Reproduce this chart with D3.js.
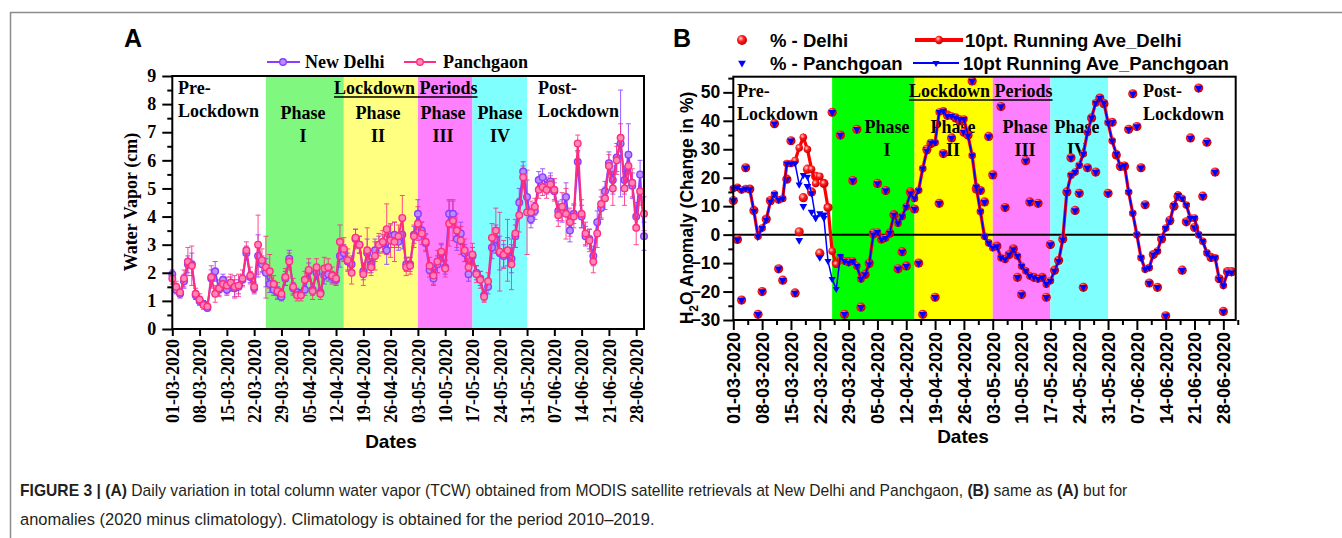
<!DOCTYPE html>
<html lang="en">
<head>
<meta charset="UTF-8">
<title>Figure 3</title>
<script src="https://cdn.jsdelivr.net/npm/d3@7"></script>
<style>
  body { margin: 0; background: #fff; }
  svg { display: block; }
</style>
</head>
<body>
<svg id="fig" width="1342" height="538"></svg>
<script>
// ---- data ----
const tickLabels = ["01-03-2020","08-03-2020","15-03-2020","22-03-2020","29-03-2020","05-04-2020",
  "12-04-2020","19-04-2020","26-04-2020","03-05-2020","10-05-2020","17-05-2020","24-05-2020",
  "31-05-2020","07-06-2020","14-06-2020","21-06-2020","28-06-2020"];
const phaseBounds = ["25-03-2020","14-04-2020","03-05-2020","17-05-2020","31-05-2020"];
const phaseColorsA = ["#80f77f","#ffff80","#ff80ff","#80ffff"];
const phaseColorsB = ["#00ff00","#ffff00","#ff80ff","#80ffff"];

// panel A: total column water vapour (cm), one value per day from 01-03-2020
const wvDelhi = [1.95,1.4,1.25,1.7,2.3,2.3,1.2,1.0,0.9,0.75,
  1.8,2.05,1.4,1.75,1.4,1.6,1.45,1.5,1.75,2.7,
  1.85,1.45,2.6,2.3,2.0,1.6,1.4,1.3,1.15,1.8,
  2.5,1.45,1.3,1.25,1.4,2.05,1.4,2.0,1.3,1.9,
  1.95,1.85,1.75,2.6,2.7,2.4,2.3,3.2,3.0,2.05,
  2.7,2.3,2.8,3.0,3.05,2.8,3.3,3.35,3.1,3.35,
  2.3,2.3,3.35,4.1,3.5,3.05,2.1,1.8,2.3,2.7,
  2.2,4.1,4.1,3.2,3.4,2.7,1.95,2.6,2.0,1.8,
  1.2,1.5,2.9,3.2,2.7,2.6,2.75,2.5,3.3,4.5,
  5.6,4.7,3.9,4.2,5.3,5.4,5.1,5.25,4.9,4.2,
  4.2,4.7,3.5,4.1,5.95,4.0,3.3,3.2,2.6,3.8,
  4.3,4.9,5.9,5.3,6.1,6.6,5.3,6.2,5.1,4.0,
  5.5,3.3];
const wvPanch = [1.8,1.5,1.3,1.8,2.4,2.25,1.25,1.05,0.85,0.8,
  1.85,1.25,1.45,1.6,1.55,1.65,1.5,1.55,1.8,2.8,
  1.9,1.5,3.0,2.45,2.2,2.05,1.6,1.35,1.25,1.85,
  2.4,1.5,1.2,1.2,1.75,2.1,1.35,2.2,1.25,2.15,
  2.2,1.9,1.8,3.1,2.85,2.45,2.0,3.25,3.0,1.95,
  2.8,2.2,2.6,3.0,3.1,3.55,3.15,3.1,3.3,3.95,
  2.2,2.25,3.3,3.75,3.4,3.1,2.25,1.9,2.4,2.75,
  2.15,3.75,3.85,3.5,3.15,2.8,2.2,2.65,1.95,1.75,
  1.15,1.7,3.25,3.5,2.75,2.65,2.8,2.3,3.4,4.05,
  5.4,4.15,4.15,4.35,4.95,5.05,4.95,5.15,4.95,4.05,
  4.35,4.1,3.8,4.0,6.6,4.1,3.4,3.15,2.4,3.4,
  4.45,4.65,5.8,5.0,6.0,6.8,5.0,5.8,5.2,3.6,
  4.9,4.1];
const errDelhi = [0.15,0.15,0.15,0.25,0.3,0.4,0.15,0.15,0.1,0.1,
  0.3,0.35,0.2,0.2,0.2,0.25,0.3,0.25,0.2,0.25,
  0.2,0.2,0.75,0.3,0.5,0.3,0.2,0.2,0.15,0.25,
  0.3,0.2,0.15,0.15,0.2,0.3,0.2,0.25,0.15,0.3,
  0.25,0.2,0.2,0.4,0.3,0.3,0.3,0.35,0.3,0.3,
  0.5,0.3,0.4,0.3,0.3,0.5,0.4,0.45,0.3,0.5,
  0.25,0.25,0.3,0.5,0.3,0.3,0.25,0.25,0.3,0.3,
  0.25,0.5,0.5,0.4,0.4,0.3,0.25,0.3,0.25,0.25,
  0.2,0.25,0.4,0.5,0.6,0.4,0.5,0.5,0.4,0.5,
  0.35,0.6,0.3,0.3,0.3,0.3,0.3,0.3,0.3,0.35,
  0.4,0.5,0.4,0.35,0.4,0.4,0.35,0.35,0.35,0.4,
  0.4,0.35,0.4,0.5,0.5,1.9,0.5,1.1,0.45,0.5,
  0.5,0.5];
const errPanch = [0.2,0.2,0.15,0.3,0.5,0.7,0.2,0.2,0.15,0.1,
  0.4,0.3,0.3,0.2,0.3,0.3,0.4,0.4,0.3,0.3,
  0.3,0.2,1.05,0.4,1.1,0.6,0.3,0.3,0.2,0.3,
  0.3,0.3,0.2,0.2,0.3,0.4,0.3,0.3,0.2,0.4,
  0.3,0.3,0.2,0.6,0.4,0.4,0.4,0.3,0.3,0.4,
  0.8,0.3,0.5,0.4,0.4,0.9,0.6,0.7,0.4,0.8,
  0.3,0.3,0.4,0.6,0.4,0.3,0.3,0.3,0.4,0.3,
  0.3,0.8,0.7,0.6,0.5,0.4,0.3,0.4,0.3,0.3,
  0.2,0.3,0.5,0.8,1.4,0.5,1.1,0.9,0.5,0.6,
  0.4,1.5,0.4,0.3,0.3,0.3,0.3,0.3,0.4,0.4,
  0.5,0.9,0.5,0.4,0.3,0.5,0.4,0.4,0.4,0.5,
  0.5,0.4,0.4,0.6,0.5,0.5,0.6,0.5,0.5,0.6,
  0.5,0.6];

// panel B: anomaly in % (2020 minus climatology)
const anomDelhi = [12,-1.7,-23,23.5,16,8.5,-28,-20,5.5,12,
  39,-12,-16,19.5,33,-20.5,1,13,23,15,
  20.5,-6.5,18,9.5,43,-10,35,-28,-9.5,19,
  37,-25.5,-14,-10,0.5,18,-1.5,15.5,0.5,7,
  -12,-6,-11,15,9,-10,-28,30,32,-22,
  11,28.5,42,34,41,40,36,35,54,16,
  15.5,11.5,34.5,21,-4,45,9.5,-7,-5,-15,
  -21,26,11.5,-15,11,-15,-22,-3.5,-12.5,-9,
  -1.5,15,27,8.5,14.5,-18.5,23.5,41,22,48,
  46,14.5,39.5,28,24,24,37,49.5,38,23.5,
  10.5,-17,-7,-18.5,-1.5,-28.5,5,10,13.5,-12.5,
  4.5,34,2.5,51.5,13.5,32.5,-8,22,-15.5,-27,
  -13,-13];
const anomPanch = [12,-1.7,-23,23.5,16,8.5,-28,-20,5.5,12,
  39,-12,-16,19.5,33,-20.5,-2,10,17,8,
  6,-8,7,9.5,43,-10,35,-28,-9.5,19,
  37,-25.5,-14,-10,0.5,18,-1.5,15.5,0.5,7,
  -12,-6,-11,15,9,-10,-28,30,32,-22,
  11,28.5,42,34,41,40,36,35,54,16,
  15.5,11.5,34.5,21,-4,45,9.5,-7,-5,-15,
  -21,26,11.5,-15,11,-15,-22,-3.5,-12.5,-9,
  -1.5,15,27,8.5,14.5,-18.5,23.5,41,22,48,
  46,14.5,39.5,28,24,24,37,49.5,38,23.5,
  10.5,-17,-7,-18.5,-1.5,-28.5,5,10,13.5,-12.5,
  4.5,34,2.5,51.5,13.5,32.5,-8,22,-15.5,-27,
  -13,-13];
const aveDelhi = [16.2,16.6,15.7,16.2,15.9,8.3,-0.6,2.3,5.2,11.6,
  14.3,12.2,12.7,25,25,26,30.5,34.2,30,23,
  18,20.5,18,9.5,-5.8,-10.4,-8,-9.3,-9.8,-9.3,
  -11,-15.6,-13.9,-10.4,0,0.9,-1.7,-1.2,0.6,7,
  4,6.4,9.8,14.5,12.7,15.6,23.2,29.5,32.4,32.4,
  43.1,43.5,41.7,41.7,41.1,40.6,40.6,34.8,27.8,16.8,
  8.1,-0.6,-2.9,-4.6,-4.1,-8.1,-8.7,-7,-5.2,-7.5,
  -11,-12.7,-14.5,-15,-15.6,-15,-17.4,-16.2,-12.7,-9.3,
  -1.7,15,20.9,22,24.4,28.4,35.9,41.1,46.3,48.1,
  46.3,39.4,33,28.4,23.8,24.4,15,7.5,0,-8.1,
  -12.2,-11.6,-7,-5.8,-1.2,2.3,4.6,10.4,13.9,12.7,
  10.4,5.8,5.8,0,-2.3,-6.4,-8.1,-8.1,-15.6,-17.9,
  -13.3,-13.3];
const avePanch = [16.2,16.6,15.7,16.2,15.9,8.3,-0.6,2.3,5.2,11.6,
  14.3,12.2,12.7,25,25,25,17.6,20.9,20.3,14.5,
  5.8,7.5,5.8,-9.3,-15.6,-19.1,-7.5,-9.3,-9.8,-9.3,
  -11,-15.6,-13.9,-10.4,0,0.9,-1.7,-1.2,0.6,7,
  4,6.4,9.8,14.5,12.7,15.6,23.2,29.5,32.4,32.4,
  43.1,43.5,41.7,41.7,41.1,40.6,40.6,34.8,27.8,16.8,
  8.1,-0.6,-2.9,-4.6,-4.1,-8.1,-8.7,-7,-5.2,-7.5,
  -11,-12.7,-14.5,-15,-15.6,-15,-17.4,-16.2,-12.7,-9.3,
  -1.7,15,20.9,22,24.4,28.4,35.9,41.1,46.3,48.1,
  46.3,39.4,33,28.4,23.8,24.4,15,7.5,0,-8.1,
  -12.2,-11.6,-7,-5.8,-1.2,2.3,4.6,10.4,13.9,12.7,
  10.4,5.8,5.8,0,-2.3,-6.4,-8.1,-8.1,-15.6,-17.9,
  -13.3,-13.3];

// ---- helpers ----
const SERIF = "'Liberation Serif','Times New Roman',serif";
const SANS = "'Liberation Sans',Arial,sans-serif";
const PURPLE = "#8b3dff", PINK = "#ff2d7f";
const parse = d3.timeParse("%d-%m-%Y");
const day0 = parse(tickLabels[0]);
const dayOf = i => d3.timeDay.offset(day0, i);
const tickDates = tickLabels.map(parse);
const bounds = phaseBounds.map(parse);

const svg = d3.select("#fig");
const defs = svg.append("defs");
const grad = defs.append("radialGradient").attr("id", "redBall")
  .attr("cx", "38%").attr("cy", "35%").attr("r", "65%");
grad.append("stop").attr("offset", "0%").attr("stop-color", "#ffd6d6");
grad.append("stop").attr("offset", "45%").attr("stop-color", "#ff2020");
grad.append("stop").attr("offset", "100%").attr("stop-color", "#c80000");

// page frame
svg.append("line").attr("x1", 10).attr("y1", 12.5).attr("x2", 1342).attr("y2", 12.5)
  .attr("stroke", "#8c8c8c").attr("stroke-width", 1.5);
svg.append("line").attr("x1", 10.5).attr("y1", 12).attr("x2", 10.5).attr("y2", 538)
  .attr("stroke", "#8c8c8c").attr("stroke-width", 1.5);

function txt(g, x, y, s, font, size, anchor) {
  return g.append("text").attr("x", x).attr("y", y).text(s)
    .attr("font-family", font).attr("font-weight", "bold").attr("font-size", size)
    .attr("text-anchor", anchor || "start").attr("fill", "#000");
}

function styleDateAxis(g, font, size, offset) {
  g.select(".domain").remove();
  g.selectAll(".tick line").attr("stroke", "#000").attr("stroke-width", 2);
  g.selectAll(".tick text")
    .attr("transform", "rotate(-90)").attr("x", -offset).attr("y", 0).attr("dy", "0.35em")
    .attr("text-anchor", "end").attr("font-family", font).attr("font-weight", "bold")
    .attr("font-size", size).attr("fill", "#000");
}

function styleValueAxis(g, font, size) {
  g.select(".domain").remove();
  g.selectAll(".tick line").attr("stroke", "#000").attr("stroke-width", 2);
  g.selectAll(".tick text").attr("font-family", font).attr("font-weight", "bold")
    .attr("font-size", size).attr("fill", "#000");
}

// ================= Panel A =================
function drawPanelA() {
  const xA = d3.scaleTime().domain([day0, parse("30-06-2020")]).range([172.3, 644]);
  const yA = d3.scaleLinear().domain([0, 9]).range([329, 76]);
  const g = svg.append("g");

  g.selectAll("rect.phase").data(phaseColorsA).join("rect")
    .attr("x", (d, i) => xA(bounds[i]))
    .attr("width", (d, i) => xA(bounds[i + 1]) - xA(bounds[i]))
    .attr("y", yA(9)).attr("height", yA(0) - yA(9)).attr("fill", d => d);

  // period labels
  txt(g, 178, 94, "Pre-", SERIF, 18);
  txt(g, 178, 117, "Lockdown", SERIF, 18);
  txt(g, 538, 94, "Post-", SERIF, 18);
  txt(g, 538, 117, "Lockdown", SERIF, 18);
  const lp = txt(g, 334, 94, "Lockdown Periods", SERIF, 18);
  const lw = lp.node().getComputedTextLength();
  g.append("line").attr("x1", 334).attr("x2", 334 + lw).attr("y1", 97).attr("y2", 97)
    .attr("stroke", "#000").attr("stroke-width", 1.5);
  [[303, "I"], [378, "II"], [443, "III"], [500, "IV"]].forEach(p => {
    txt(g, p[0], 119, "Phase", SERIF, 18, "middle");
    txt(g, p[0], 142, p[1], SERIF, 18, "middle");
  });

  // error bars
  [[wvDelhi, errDelhi, PURPLE], [wvPanch, errPanch, PINK]].forEach(([vals, errs, col]) => {
    const eb = g.append("g").attr("stroke", col).attr("stroke-width", 1).attr("opacity", 0.85);
    vals.forEach((v, i) => {
      const x = xA(dayOf(i)), y1 = yA(v - errs[i]), y2 = yA(v + errs[i]);
      eb.append("line").attr("x1", x).attr("x2", x).attr("y1", y1).attr("y2", y2);
      eb.append("line").attr("x1", x - 2.5).attr("x2", x + 2.5).attr("y1", y1).attr("y2", y1);
      eb.append("line").attr("x1", x - 2.5).attr("x2", x + 2.5).attr("y1", y2).attr("y2", y2);
    });
  });

  const line = d3.line().x((d, i) => xA(dayOf(i))).y(d => yA(d));
  [[wvDelhi, PURPLE, "#b98cff"], [wvPanch, PINK, "#ff86b6"]].forEach(([vals, col, fill]) => {
    g.append("path").datum(vals).attr("d", line).attr("fill", "none")
      .attr("stroke", col).attr("stroke-width", 2);
    g.append("g").selectAll("circle").data(vals).join("circle")
      .attr("cx", (d, i) => xA(dayOf(i))).attr("cy", d => yA(d)).attr("r", 3.3)
      .attr("fill", fill).attr("stroke", col).attr("stroke-width", 1.4);
  });

  // frame
  g.append("rect").attr("x", xA.range()[0]).attr("y", yA(9))
    .attr("width", xA.range()[1] - xA.range()[0]).attr("height", yA(0) - yA(9))
    .attr("fill", "none").attr("stroke", "#000").attr("stroke-width", 2);

  // axes
  g.append("g").attr("transform", `translate(0,${yA(0)})`)
    .call(d3.axisBottom(xA).tickValues(tickDates).tickFormat(d3.timeFormat("%d-%m-%Y")).tickSize(7))
    .call(a => styleDateAxis(a, SERIF, 18, 10));
  g.append("g").attr("transform", `translate(${xA.range()[0]},0)`)
    .call(d3.axisLeft(yA).ticks(9).tickSize(10).tickPadding(6))
    .call(a => styleValueAxis(a, SERIF, 18));
  g.append("g").attr("transform", `translate(${xA.range()[0]},0)`)
    .call(d3.axisLeft(yA).tickValues(d3.range(0.5, 9, 1)).tickSize(5).tickFormat(""))
    .call(a => styleValueAxis(a, SERIF, 18));

  txt(g, 0, 0, "Water Vapor (cm)", SERIF, 18, "middle")
    .attr("transform", "translate(137,202) rotate(-90)");
  txt(g, 391, 448, "Dates", SANS, 19, "middle");
  txt(g, 124, 47, "A", SANS, 25);

  // legend
  [[267, 300, 283, 305, "New Delhi", PURPLE, "#b98cff"],
   [404, 436, 420, 443, "Panchgaon", PINK, "#ff86b6"]].forEach(l => {
    g.append("line").attr("x1", l[0]).attr("x2", l[1]).attr("y1", 62).attr("y2", 62)
      .attr("stroke", l[5]).attr("stroke-width", 2);
    g.append("circle").attr("cx", l[2]).attr("cy", 62).attr("r", 3.3)
      .attr("fill", l[6]).attr("stroke", l[5]).attr("stroke-width", 1.4);
    txt(g, l[3], 68, l[4], SERIF, 18);
  });
}

// ================= Panel B =================
function drawPanelB() {
  const xB = d3.scaleTime().domain([day0, parse("01-07-2020")]).range([733.3, 1235.7]);
  const yB = d3.scaleLinear().domain([-30, 55.5]).range([320, 76.7]);
  const g = svg.append("g");
  const tri = d3.symbol().type(d3.symbolTriangle);

  g.selectAll("rect.phase").data(phaseColorsB).join("rect")
    .attr("x", (d, i) => xB(bounds[i]))
    .attr("width", (d, i) => xB(bounds[i + 1]) - xB(bounds[i]))
    .attr("y", yB(55.5)).attr("height", yB(-30) - yB(55.5)).attr("fill", d => d);

  txt(g, 737, 97, "Pre-", SERIF, 18);
  txt(g, 737, 120, "Lockdown", SERIF, 18);
  txt(g, 1143, 97, "Post-", SERIF, 18);
  txt(g, 1143, 120, "Lockdown", SERIF, 18);
  const lp = txt(g, 909, 97, "Lockdown Periods", SERIF, 18);
  const lw = lp.node().getComputedTextLength();
  g.append("line").attr("x1", 909).attr("x2", 909 + lw).attr("y1", 100).attr("y2", 100)
    .attr("stroke", "#000").attr("stroke-width", 1.5);
  [[887, "I"], [953, "II"], [1025, "III"], [1077, "IV"]].forEach(p => {
    txt(g, p[0], 133, "Phase", SERIF, 18, "middle");
    txt(g, p[0], 156, p[1], SERIF, 18, "middle");
  });

  // zero line
  g.append("line").attr("x1", xB.range()[0]).attr("x2", xB.range()[1])
    .attr("y1", yB(0)).attr("y2", yB(0)).attr("stroke", "#000").attr("stroke-width", 2);

  // daily anomalies
  g.append("g").selectAll("circle").data(anomDelhi).join("circle")
    .attr("cx", (d, i) => xB(dayOf(i))).attr("cy", d => yB(d)).attr("r", 4.6)
    .attr("fill", "url(#redBall)");
  g.append("g").selectAll("path").data(anomPanch).join("path")
    .attr("d", tri.size(26))
    .attr("transform", (d, i) => `translate(${xB(dayOf(i))},${yB(d)}) rotate(180)`)
    .attr("fill", "#0000ff");

  // 10-point running averages
  const line = d3.line().x((d, i) => xB(dayOf(i))).y(d => yB(d));
  g.append("path").datum(aveDelhi).attr("d", line).attr("fill", "none")
    .attr("stroke", "#ff0000").attr("stroke-width", 3.2);
  g.append("g").selectAll("circle").data(aveDelhi).join("circle")
    .attr("cx", (d, i) => xB(dayOf(i))).attr("cy", d => yB(d)).attr("r", 3.8)
    .attr("fill", "url(#redBall)");
  g.append("path").datum(avePanch).attr("d", line).attr("fill", "none")
    .attr("stroke", "#0000ff").attr("stroke-width", 1.5);
  g.append("g").selectAll("path").data(avePanch).join("path")
    .attr("d", tri.size(22))
    .attr("transform", (d, i) => `translate(${xB(dayOf(i))},${yB(d)}) rotate(180)`)
    .attr("fill", "#0000ff");

  g.append("rect").attr("x", xB.range()[0]).attr("y", yB(55.5))
    .attr("width", xB.range()[1] - xB.range()[0]).attr("height", yB(-30) - yB(55.5))
    .attr("fill", "none").attr("stroke", "#000").attr("stroke-width", 2);

  g.append("g").attr("transform", `translate(0,${yB(-30)})`)
    .call(d3.axisBottom(xB).tickValues(tickDates).tickFormat(d3.timeFormat("%d-%m-%Y")).tickSize(10))
    .call(a => styleDateAxis(a, SANS, 18, 12));
  g.append("g").attr("transform", `translate(0,${yB(-30)})`)
    .call(d3.axisBottom(xB).tickValues(tickDates.map(d => d3.timeHour.offset(d, 84))).tickSize(5).tickFormat(""))
    .call(a => styleDateAxis(a, SANS, 18, 12));
  g.append("g").attr("transform", `translate(${xB.range()[0]},0)`)
    .call(d3.axisLeft(yB).tickValues(d3.range(-30, 51, 10)).tickSize(10).tickPadding(3))
    .call(a => styleValueAxis(a, SANS, 17.5));
  g.append("g").attr("transform", `translate(${xB.range()[0]},0)`)
    .call(d3.axisLeft(yB).tickValues(d3.range(-25, 56, 10)).tickSize(5).tickFormat(""))
    .call(a => styleValueAxis(a, SANS, 17.5));

  const yl = txt(g, 0, 0, "", SANS, 17.5, "middle")
    .attr("transform", "translate(693,208) rotate(-90)");
  yl.append("tspan").text("H");
  yl.append("tspan").text("2").attr("font-size", 12).attr("dy", 5);
  yl.append("tspan").text("O Anomaly (Change in %)").attr("dy", -5);
  txt(g, 963, 443, "Dates", SANS, 19, "middle");
  txt(g, 673, 47, "B", SANS, 25);

  // legend
  g.append("circle").attr("cx", 742).attr("cy", 40).attr("r", 5).attr("fill", "url(#redBall)");
  txt(g, 770, 46.5, "% - Delhi", SANS, 18.5);
  g.append("line").attr("x1", 915).attr("x2", 963).attr("y1", 40).attr("y2", 40)
    .attr("stroke", "#ff0000").attr("stroke-width", 4);
  g.append("circle").attr("cx", 939).attr("cy", 40).attr("r", 4.2).attr("fill", "url(#redBall)");
  txt(g, 965, 46.5, "10pt. Running Ave_Delhi", SANS, 18.5);
  g.append("path").attr("d", tri.size(26)).attr("transform", "translate(742,63) rotate(180)")
    .attr("fill", "#0000ff");
  txt(g, 770, 69.5, "% - Panchgoan", SANS, 18.5);
  g.append("line").attr("x1", 913).attr("x2", 959).attr("y1", 63).attr("y2", 63)
    .attr("stroke", "#0000ff").attr("stroke-width", 1.8);
  g.append("path").attr("d", tri.size(22)).attr("transform", "translate(936,63) rotate(180)")
    .attr("fill", "#0000ff");
  txt(g, 963, 69.5, "10pt Running Ave_Panchgoan", SANS, 18.5);
}

// ================= caption =================
function drawCaption() {
  const lines = [
    [["FIGURE 3 | ", 1], ["(A)", 1], [" Daily variation in total column water vapor (TCW) obtained from MODIS satellite retrievals at New Delhi and Panchgaon, ", 0],
     ["(B)", 1], [" same as ", 0], ["(A)", 1], [" but for", 0]],
    [["anomalies (2020 minus climatology). Climatology is obtained for the period 2010\u20132019.", 0]]
  ];
  const widths = [1108, 635];
  lines.forEach((parts, i) => {
    const t = svg.append("text").attr("x", 0).attr("y", 0)
      .attr("font-family", SANS).attr("font-size", 17).attr("fill", "#231f20");
    parts.forEach(p => t.append("tspan").text(p[0]).attr("font-weight", p[1] ? "bold" : "normal"));
    const k = widths[i] / t.node().getComputedTextLength();
    t.attr("transform", `translate(20,${496 + i * 29}) scale(${k},1)`);
  });
}

drawPanelA();
drawPanelB();
drawCaption();
</script>
</body>
</html>
